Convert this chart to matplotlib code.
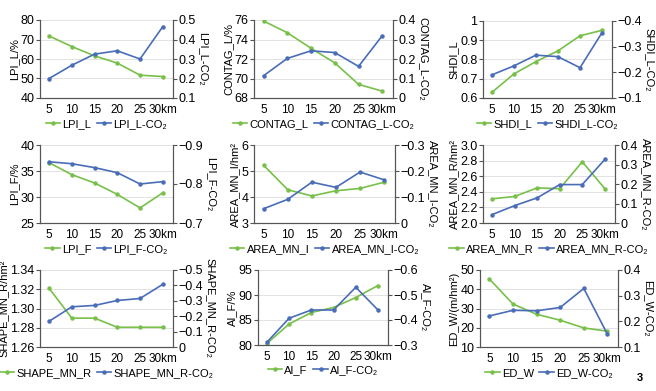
import numpy as np
import matplotlib
matplotlib.use("Agg")
import matplotlib.pyplot as plt

plt.rcParams['font.family'] = ['Liberation Sans', 'DejaVu Sans']
plt.rcParams['font.size'] = 8

GREEN = '#78c04a'
BLUE = '#4a6db8'

# distance categories
distances = ['5', '10', '15', '20', '25', '30km']

# landscape metrics (left axis) and their correlation with CO2 (right axis)
lpi_l = [71.8, 66.4, 61.6, 57.9, 51.7, 51.0]
lpi_l_co2 = [0.20, 0.268, 0.325, 0.342, 0.30, 0.466]

contag_l = [75.9, 74.7, 73.1, 71.6, 69.4, 68.7]
contag_l_co2 = [0.114, 0.203, 0.242, 0.233, 0.162, 0.32]

shdi_l = [0.629, 0.725, 0.789, 0.845, 0.923, 0.952]
shdi_l_co2 = [-0.19, -0.225, -0.267, -0.261, -0.218, -0.355]

lpi_f = [36.6, 34.3, 32.7, 30.5, 27.9, 30.8]
lpi_f_co2 = [-0.857, -0.852, -0.842, -0.829, -0.80, -0.806]

area_mn_i = [5.22, 4.28, 4.04, 4.24, 4.33, 4.57]
area_mn_i_co2 = [-0.055, -0.091, -0.157, -0.137, -0.196, -0.166]

area_mn_r = [2.31, 2.34, 2.45, 2.44, 2.785, 2.44]
area_mn_r_co2 = [0.043, 0.089, 0.129, 0.197, 0.197, 0.326]

shape_mn_r = [1.321, 1.290, 1.290, 1.2805, 1.2805, 1.2805]
shape_mn_r_co2 = [-0.167, -0.261, -0.270, -0.302, -0.315, -0.407]

ai_f = [80.3, 84.2, 86.5, 87.5, 89.5, 91.9]
ai_f_co2 = [-0.311, -0.407, -0.44, -0.44, -0.531, -0.44]

ed_w = [45.3, 32.3, 27.0, 23.9, 19.9, 18.2]
ed_w_co2 = [0.221, 0.243, 0.241, 0.254, 0.328, 0.15]

# name, left label, right label, left data, right data, left ticks, right ticks (bottom->top)
panels = [
    ('LPI_L', 'LPI_L/%', 'LPI_L-CO₂', lpi_l, lpi_l_co2,
     [40, 50, 60, 70, 80], [0.1, 0.2, 0.3, 0.4, 0.5]),
    ('CONTAG_L', 'CONTAG_L/%', 'CONTAG_L-CO₂', contag_l, contag_l_co2,
     [68, 70, 72, 74, 76], [0, 0.1, 0.2, 0.3, 0.4]),
    ('SHDI_L', 'SHDI_L', 'SHDI_L-CO₂', shdi_l, shdi_l_co2,
     [0.6, 0.7, 0.8, 0.9, 1.0], [-0.1, -0.2, -0.3, -0.4]),
    ('LPI_F', 'LPI_F/%', 'LPI_F-CO₂', lpi_f, lpi_f_co2,
     [25, 30, 35, 40], [-0.7, -0.8, -0.9]),
    ('AREA_MN_I', 'AREA_MN_I/hm²', 'AREA_MN_I-CO₂', area_mn_i, area_mn_i_co2,
     [3, 4, 5, 6], [0, -0.1, -0.2, -0.3]),
    ('AREA_MN_R', 'AREA_MN_R/hm²', 'AREA_MN_R-CO₂', area_mn_r, area_mn_r_co2,
     [2.0, 2.2, 2.4, 2.6, 2.8, 3.0], [0, 0.1, 0.2, 0.3, 0.4]),
    ('SHAPE_MN_R', 'SHAPE_MN_R/hm²', 'SHAPE_MN_R-CO₂', shape_mn_r, shape_mn_r_co2,
     [1.26, 1.28, 1.30, 1.32, 1.34], [0, -0.1, -0.2, -0.3, -0.4, -0.5]),
    ('AI_F', 'AI_F/%', 'AI_F-CO₂', ai_f, ai_f_co2,
     [80, 85, 90, 95], [-0.3, -0.4, -0.5, -0.6]),
    ('ED_W', 'ED_W/(m/hm²)', 'ED_W-CO₂', ed_w, ed_w_co2,
     [10, 20, 30, 40, 50], [0.1, 0.2, 0.3, 0.4]),
]

left_fmt = ['{:.0f}', '{:.0f}', '{:g}', '{:.0f}', '{:.0f}', '{:.1f}', '{:.2f}', '{:.0f}', '{:.0f}']

# axes boxes in pixels: left, top, right, bottom
boxes = [
    (40, 20, 173, 98), (254, 20, 393, 98), (483, 21, 612, 98),
    (40, 145, 173, 223), (254, 145, 395, 223), (483, 145, 615, 223),
    (40, 270, 173, 347), (258, 270, 388, 345), (480, 270, 618, 347),
]

W, H = 656, 391
fig = plt.figure(figsize=(W / 100, H / 100), dpi=100)
x = np.arange(len(distances))

for i, (name, llab, rlab, ld, rd, lt, rt) in enumerate(panels):
    l, t, r, b = boxes[i]
    ax = fig.add_axes([l / W, 1 - b / H, (r - l) / W, (b - t) / H])
    ax2 = ax.twinx()
    h1, = ax.plot(x, ld, color=GREEN, lw=1.2, marker='o', ms=2.2)
    h2, = ax2.plot(x, rd, color=BLUE, lw=1.2, marker='o', ms=2.2)

    ax.set_xlim(-0.4, 5.45)
    ax.set_xticks(x)
    ax.set_xticklabels(distances)
    ax.set_ylim(lt[0], lt[-1])
    ax.set_yticks(lt)
    ax.set_yticklabels([left_fmt[i].format(v) for v in lt])
    ax2.set_ylim(rt[0], rt[-1])
    ax2.set_yticks(rt)
    ax2.set_yticklabels(['{:g}'.format(v).replace('-', '\u2212') for v in rt])

    ax.grid(axis='y', color='#dddddd', lw=0.6)
    ax.set_axisbelow(True)
    for a in (ax, ax2):
        a.spines['top'].set_visible(False)
        for s in ('left', 'right', 'bottom'):
            a.spines[s].set_color('#555555')
            a.spines[s].set_linewidth(0.8)
        a.tick_params(axis='y', length=3, width=0.8, pad=1, labelsize=9, color='#555555')
        a.tick_params(axis='x', length=0, pad=4, labelsize=8.5)

    ax.set_ylabel(llab, fontsize=8, labelpad=1)
    ax2.set_ylabel(rlab, fontsize=8, rotation=270, labelpad=9)

    ax.legend([h1, h2], [name, name + '-CO₂'], loc='upper center',
              bbox_to_anchor=(0.5, -0.27), ncol=2, frameon=False, fontsize=8,
              handlelength=1.3, handletextpad=0.2, columnspacing=0.5,
              borderpad=0, borderaxespad=0)

fig.text(640 / W, 1 - 378 / H, '3', fontsize=8, fontweight='bold', ha='center', va='center')

fig.savefig('out.png', dpi=100, facecolor='white')
